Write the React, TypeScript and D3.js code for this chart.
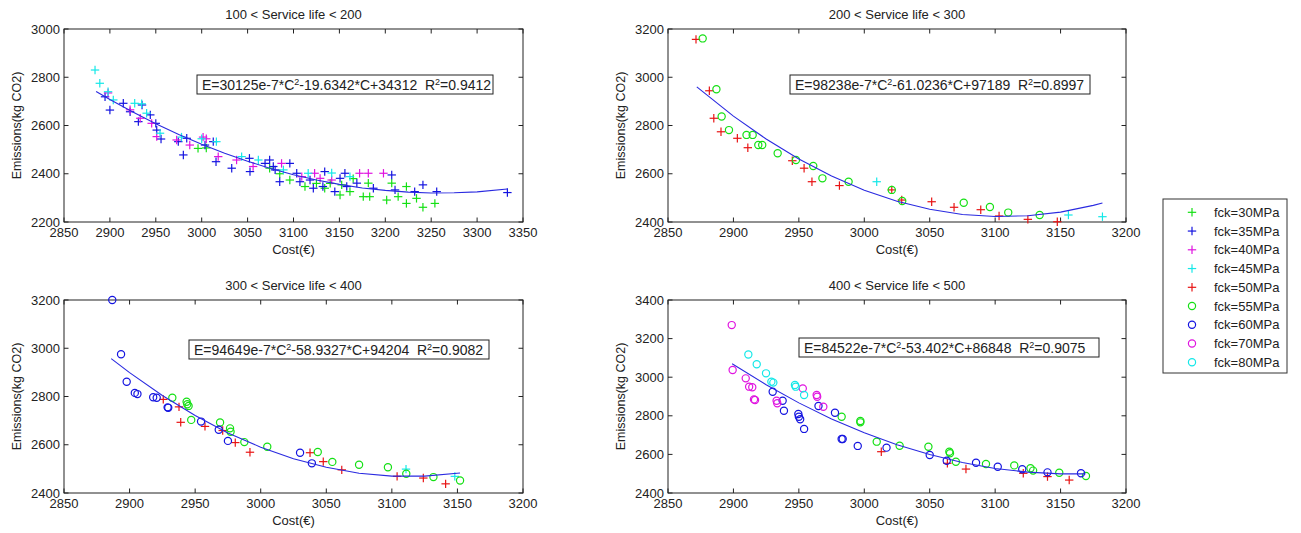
import React from "react";
import * as d3 from "d3";

type Pt = [number, number];

// ---------- Panel 1: 100 < Service life < 200 ----------
const p1_fck30: Pt[] = [
  [2996, 2505], [3005, 2507], [3074, 2423], [3085, 2400], [3096, 2374], [3112.5, 2347], [3125, 2360],
  [3134, 2340], [3140, 2360], [3150.7, 2312], [3152.5, 2354], [3161.5, 2326], [3165, 2380], [3176, 2305],
  [3181.5, 2361], [3183, 2305], [3201.5, 2291], [3207, 2361], [3214, 2305], [3223, 2347], [3223, 2277],
  [3234, 2298], [3241, 2261], [3254, 2277],
];
const p1_fck35: Pt[] = [
  [2894.7, 2719], [2900, 2664], [2914.6, 2692], [2922, 2657], [2935, 2685], [2931, 2616], [2944, 2644],
  [2950, 2609], [2951, 2581], [2955.7, 2544], [2974.5, 2533], [2980, 2478], [2983.7, 2547], [3003.6, 2519],
  [3012.6, 2533], [3015.6, 2450], [3032.7, 2423], [3052.6, 2409], [3052, 2464], [3069, 2443], [3074, 2457],
  [3078, 2430], [3080, 2416], [3085, 2367], [3096, 2443], [3103.5, 2402], [3107, 2367], [3118, 2374],
  [3121.6, 2340], [3132, 2347], [3134, 2409], [3145, 2326], [3150.7, 2381], [3156, 2402], [3158, 2347],
  [3169, 2361], [3187, 2340], [3207, 2395], [3210.6, 2333], [3232, 2326], [3241, 2354], [3256, 2326],
  [3333, 2322],
];
const p1_fck40: Pt[] = [
  [2898, 2735], [2922, 2665], [2933, 2630], [2945.5, 2609], [2951, 2554], [2972.7, 2540], [2987, 2519],
  [3001.5, 2552], [3005, 2545], [3018, 2471], [3038, 2457], [3056, 2430], [3087, 2443], [3109, 2388],
  [3123, 2402], [3129, 2381], [3141.6, 2374], [3172, 2402], [3181.5, 2402], [3198, 2402],
];
const p1_fck45: Pt[] = [
  [2883.8, 2830], [2889, 2775], [2898, 2740], [2903.7, 2706], [2927, 2692], [2934.6, 2690], [2940, 2651],
  [2954.6, 2568], [2978, 2552], [3000, 2545], [3016, 2533], [3043.5, 2471], [3061.7, 2457], [3089, 2416],
  [3116, 2402], [3141.6, 2403], [3161.5, 2388],
];
const p1_fit: Pt[] = [
  [2885, 2741], [2900, 2708], [2925, 2656], [2950, 2607], [2975, 2563], [3000, 2522], [3025, 2485],
  [3050, 2452], [3075, 2422], [3100, 2396], [3125, 2374], [3150, 2356], [3175, 2341], [3200, 2331],
  [3225, 2324], [3250, 2320], [3275, 2321], [3300, 2325], [3333, 2337],
];

// ---------- Panel 2: 200 < Service life < 300 ----------
const p2_fck45: Pt[] = [[3009.5, 2567], [3156, 2429], [3182, 2422]];
const p2_fck50: Pt[] = [
  [2871.4, 3157], [2881.6, 2944], [2885, 2830], [2890.5, 2774], [2903, 2747], [2911, 2708], [2945, 2654],
  [2954, 2623], [2960, 2567], [2981, 2551], [3021, 2533], [3028.6, 2491], [3051.5, 2484], [3068.6, 2461],
  [3089, 2451], [3103, 2425], [3125, 2411], [3147.5, 2401],
];
const p2_fck55: Pt[] = [
  [2876.5, 3161], [2887, 2950], [2891, 2837], [2896.6, 2781], [2910, 2761], [2914.7, 2761], [2919, 2719],
  [2922, 2719], [2933.8, 2685], [2947.8, 2657], [2961, 2632], [2968, 2581], [2988, 2567], [3021, 2533],
  [3029, 2487], [3076, 2480], [3096, 2462], [3110, 2439], [3134, 2429],
];
const p2_fit: Pt[] = [
  [2872, 2960], [2900, 2839], [2925, 2744], [2950, 2661], [2975, 2591], [3000, 2532], [3025, 2486],
  [3050, 2453], [3075, 2431], [3100, 2423], [3125, 2426], [3150, 2441], [3175, 2469], [3182, 2479],
];

// ---------- Panel 3: 300 < Service life < 400 ----------
const p3_fck45: Pt[] = [[3110.8, 2499], [3148, 2469]];
const p3_fck50: Pt[] = [
  [2925.7, 2788], [2937.7, 2757], [2939, 2693], [2957.5, 2676], [2971, 2659], [2980.6, 2609], [2991.8, 2569],
  [3037.6, 2567], [3047.7, 2530], [3061.8, 2496], [3104, 2469], [3124, 2462], [3141, 2438],
];
const p3_fck55: Pt[] = [
  [2932.6, 2795], [2943.5, 2778], [2944, 2768], [2945, 2761], [2947, 2703], [2969, 2692], [2976.6, 2668],
  [2977, 2654], [2987.5, 2611], [3005, 2592], [3043.5, 2570], [3054.6, 2529], [3075, 2517], [3097, 2507],
  [3111, 2480], [3131.7, 2466], [3152, 2452],
];
const p3_fck60: Pt[] = [
  [2886.8, 3200], [2893.5, 2975], [2897.8, 2861], [2904, 2815], [2906, 2810], [2918, 2797], [2920.7, 2795],
  [2929, 2755], [2929.5, 2753], [2954.5, 2696], [2968, 2662], [2975, 2616], [3030, 2567], [3039, 2523],
];
const p3_fit: Pt[] = [
  [2886, 2957], [2900, 2899], [2925, 2804], [2950, 2721], [2975, 2649], [3000, 2590], [3025, 2542],
  [3050, 2507], [3075, 2482], [3100, 2470], [3125, 2470], [3152, 2483],
];

// ---------- Panel 4: 400 < Service life < 500 ----------
const p4_fck50: Pt[] = [[3013, 2614], [3063.5, 2554], [3077.7, 2524], [3121.5, 2502], [3140, 2485], [3156.6, 2467]];
const p4_fck55: Pt[] = [
  [2982.7, 2795], [2997, 2773], [2997, 2766], [3009.5, 2666], [3027, 2645], [3049, 2640], [3065, 2614],
  [3065.5, 2606], [3070, 2562], [3093, 2550], [3114.6, 2543], [3127, 2528], [3129, 2516], [3149, 2505],
  [3169.4, 2488],
];
const p4_fck60: Pt[] = [
  [2930, 2925], [2937.6, 2878], [2938.6, 2826], [2949.6, 2809], [2950, 2795], [2951, 2782], [2954, 2732],
  [2965, 2851], [2977.6, 2816], [2982.7, 2680], [2983.5, 2680], [2995, 2644], [3017, 2635], [3050, 2597],
  [3063, 2567], [3085.4, 2557], [3102, 2536], [3120.7, 2523], [3140, 2507], [3165.6, 2502],
];
const p4_fck70: Pt[] = [
  [2898.7, 3270], [2899.4, 3037], [2909.4, 2994], [2912, 2951], [2914.4, 2948], [2915.7, 2885], [2916.5, 2882],
  [2933, 2878], [2933.5, 2865], [2953, 2942], [2963.6, 2908], [2964, 2899], [2968.7, 2847],
];
const p4_fck80: Pt[] = [
  [2911.4, 3118], [2917.8, 3067], [2924.9, 3020], [2929, 2977], [2930.5, 2972], [2947, 2960], [2947.6, 2951],
  [2954, 2908],
];
const p4_fit: Pt[] = [
  [2899, 3070], [2925, 2961], [2950, 2867], [2975, 2784], [3000, 2712], [3025, 2650], [3050, 2599],
  [3075, 2558], [3100, 2527], [3125, 2508], [3150, 2499], [3169, 2499],
];

// ---------- Legend / labels ----------
const legendLabels = ["fck=30MPa", "fck=35MPa", "fck=40MPa", "fck=45MPa", "fck=50MPa", "fck=55MPa", "fck=60MPa", "fck=70MPa", "fck=80MPa"];
const legendMarkers = ["plus", "plus", "plus", "plus", "plus", "circle", "circle", "circle", "circle"];
const legendColors = ["#14e014", "#1414e0", "#e014e0", "#14e8e8", "#e81414", "#14e014", "#1414e0", "#e014e0", "#14e8e8"];

const titles = ["100 < Service life < 200", "200 < Service life < 300", "300 < Service life < 400", "400 < Service life < 500"];
const eqA = ["30125e-7", "98238e-7", "94649e-7", "84522e-7"];
const eqB = ["-19.6342", "-61.0236", "-58.9327", "-53.402"];
const eqC = ["+34312", "+97189", "+94204", "+86848"];
const eqR2 = ["0.9412", "0.8997", "0.9082", "0.9075"];
const xDomains: Pt[] = [[2850, 3350], [2850, 3200], [2850, 3200], [2850, 3200]];
const yDomains: Pt[] = [[2200, 3000], [2400, 3200], [2400, 3200], [2400, 3400]];

const panelSeries: { idx: number; data: Pt[] }[][] = [
  [{ idx: 0, data: p1_fck30 }, { idx: 1, data: p1_fck35 }, { idx: 2, data: p1_fck40 }, { idx: 3, data: p1_fck45 }],
  [{ idx: 3, data: p2_fck45 }, { idx: 4, data: p2_fck50 }, { idx: 5, data: p2_fck55 }],
  [{ idx: 3, data: p3_fck45 }, { idx: 4, data: p3_fck50 }, { idx: 5, data: p3_fck55 }, { idx: 6, data: p3_fck60 }],
  [{ idx: 4, data: p4_fck50 }, { idx: 5, data: p4_fck55 }, { idx: 6, data: p4_fck60 }, { idx: 7, data: p4_fck70 }, { idx: 8, data: p4_fck80 }],
];
const panelFits = [p1_fit, p2_fit, p3_fit, p4_fit];

// layout
const W = 1301, H = 533;
const layout = [
  { left: 64, top: 29, w: 459, h: 193, box: { dx: 133, dy: 46, w: 296 } },
  { left: 668, top: 29, w: 458, h: 193, box: { dx: 122, dy: 46, w: 300 } },
  { left: 64, top: 300, w: 459, h: 193, box: { dx: 125, dy: 40, w: 300 } },
  { left: 668, top: 300, w: 458, h: 193, box: { dx: 131, dy: 38, w: 300 } },
];
const FONT = "'Liberation Sans', Arial, sans-serif";
const TXT = "#222";
const FIT_COLOR = "#2a2ae0";

function Marker({ kind, cx, cy, color }: { kind: string; cx: number; cy: number; color: string }) {
  if (kind === "plus") {
    const s = 4.2;
    return (
      <g stroke={color} strokeWidth={1.2}>
        <line x1={cx - s} y1={cy} x2={cx + s} y2={cy} />
        <line x1={cx} y1={cy - s} x2={cx} y2={cy + s} />
      </g>
    );
  }
  return <circle cx={cx} cy={cy} r={3.6} fill="none" stroke={color} strokeWidth={1.2} />;
}

function Panel({ i }: { i: number }) {
  const L = layout[i];
  const x = d3.scaleLinear().domain(xDomains[i]).range([L.left, L.left + L.w]);
  const y = d3.scaleLinear().domain(yDomains[i]).range([L.top + L.h, L.top]);
  const xt = d3.range(xDomains[i][0], xDomains[i][1] + 1, 50);
  const yt = d3.range(yDomains[i][0], yDomains[i][1] + 1, 200);
  const line = d3.line<Pt>().x((d) => x(d[0])).y((d) => y(d[1]));
  const tk = 4.5;
  const bx = L.left + L.box.dx, by = L.top + L.box.dy;
  const cx = L.left + L.w / 2, cy = L.top + L.h / 2;
  return (
    <g>
      <rect x={L.left} y={L.top} width={L.w} height={L.h} fill="#fff" stroke="#222" strokeWidth={1} />
      {xt.map((t) => (
        <g key={"x" + t}>
          <line x1={x(t)} x2={x(t)} y1={L.top + L.h} y2={L.top + L.h - tk} stroke="#222" />
          <line x1={x(t)} x2={x(t)} y1={L.top} y2={L.top + tk} stroke="#222" />
          <text x={x(t)} y={L.top + L.h + 15} textAnchor="middle" fontSize={13} fill={TXT}>{t}</text>
        </g>
      ))}
      {yt.map((t) => (
        <g key={"y" + t}>
          <line x1={L.left} x2={L.left + tk} y1={y(t)} y2={y(t)} stroke="#222" />
          <line x1={L.left + L.w} x2={L.left + L.w - tk} y1={y(t)} y2={y(t)} stroke="#222" />
          <text x={L.left - 4} y={y(t) + 4.5} textAnchor="end" fontSize={13} fill={TXT}>{t}</text>
        </g>
      ))}
      {panelSeries[i].map((s, k) => (
        <g key={k}>
          {s.data.map((d, j) => (
            <Marker key={j} kind={legendMarkers[s.idx]} cx={x(d[0])} cy={y(d[1])} color={legendColors[s.idx]} />
          ))}
        </g>
      ))}
      <path d={line(panelFits[i]) || ""} fill="none" stroke={FIT_COLOR} strokeWidth={1.1} />
      <rect x={bx} y={by} width={L.box.w} height={19} fill="#fff" stroke="#222" strokeWidth={1} />
      <text x={bx + 5} y={by + 14.5} fontSize={14} fill={TXT} style={{ whiteSpace: "pre" }}>
        {"E=" + eqA[i] + "*C"}
        <tspan fontSize={9} dy={-5}>2</tspan>
        <tspan dy={5}>{eqB[i] + "*C" + eqC[i] + "  R"}</tspan>
        <tspan fontSize={9} dy={-5}>2</tspan>
        <tspan dy={5}>{"=" + eqR2[i]}</tspan>
      </text>
      <text x={cx} y={L.top - 10} textAnchor="middle" fontSize={13} fill={TXT}>{titles[i]}</text>
      <text x={cx} y={L.top + L.h + 32} textAnchor="middle" fontSize={13} fill={TXT}>Cost(€)</text>
      <text transform={`translate(${L.left - 43},${cy}) rotate(-90)`} textAnchor="middle" fontSize={12.5} fill={TXT}>
        Emissions(kg CO2)
      </text>
    </g>
  );
}

export default function App() {
  const lx = 1163, ly = 199, lw = 124, lh = 174;
  return (
    <svg width={W} height={H} style={{ position: "absolute", left: 0, top: 0, background: "#fff" }} fontFamily={FONT}>
      <rect x={0} y={0} width={W} height={H} fill="#fff" />
      {[0, 1, 2, 3].map((i) => (
        <Panel key={i} i={i} />
      ))}
      <g>
        <rect x={lx} y={ly} width={lw} height={lh} fill="#fff" stroke="#333" strokeWidth={1} />
        {legendLabels.map((lab, k) => {
          const yy = ly + 13.3 + k * 18.75;
          return (
            <g key={lab}>
              <Marker kind={legendMarkers[k]} cx={lx + 29} cy={yy} color={legendColors[k]} />
              <text x={lx + 51} y={yy + 4.5} fontSize={13} fill={TXT}>{lab}</text>
            </g>
          );
        })}
      </g>
    </svg>
  );
}
